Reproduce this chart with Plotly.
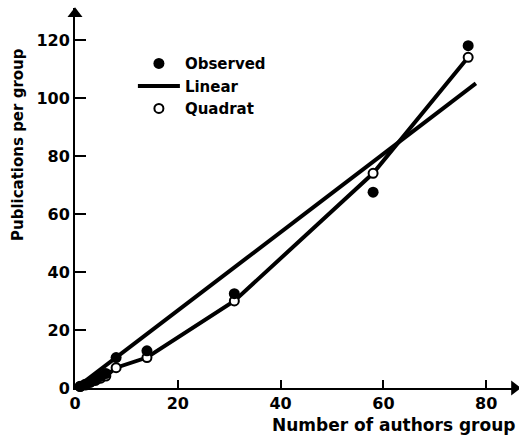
import plotly.graph_objects as go

# Observed data (authors per group vs publications per group)
obs_x = [1, 2, 3, 4, 5, 6, 8, 14, 31, 58, 76.5]
obs_y = [0.5, 1, 2, 3, 4, 5, 10.5, 12.8, 32.5, 67.5, 118]

# Quadratic fit values
quad_x = [0, 1, 2, 3, 4, 5, 6, 8, 14, 31, 58, 76.5]
quad_y = [0, 0.6, 1.3, 2, 2.6, 3.4, 4.1, 7, 10.5, 30, 74, 114]

# Linear fit end points
lin_x = [0.5, 78]
lin_y = [0.4, 105]

x_ticks = [0, 20, 40, 60, 80]
y_ticks = [0, 20, 40, 60, 80, 100, 120]

FONT = "DejaVu Sans"

fig = go.Figure()

fig.add_trace(go.Scatter(x=lin_x, y=lin_y, mode="lines", name="Linear",
                         line=dict(color="black", width=4), cliponaxis=False,
                         legendrank=2))
fig.add_trace(go.Scatter(x=quad_x, y=quad_y, mode="lines", showlegend=False,
                         line=dict(color="black", width=4), cliponaxis=False))
fig.add_trace(go.Scatter(x=quad_x[1:], y=quad_y[1:], mode="markers", name="Quadrat",
                         marker=dict(symbol="circle", size=9, color="white",
                                     line=dict(color="black", width=2)),
                         cliponaxis=False, legendrank=3))
fig.add_trace(go.Scatter(x=obs_x, y=obs_y, mode="markers", name="Observed",
                         marker=dict(symbol="circle", size=11, color="black"),
                         cliponaxis=False, legendrank=1))

# axis arrow heads
fig.add_trace(go.Scatter(x=[85.5], y=[0], mode="markers", showlegend=False,
                         marker=dict(symbol="triangle-right", size=13, color="black"),
                         cliponaxis=False, hoverinfo="skip"))
fig.add_trace(go.Scatter(x=[0], y=[129], mode="markers", showlegend=False,
                         marker=dict(symbol="triangle-up", size=13, color="black"),
                         cliponaxis=False, hoverinfo="skip"))

fig.update_layout(
    width=519, height=438,
    margin=dict(l=75, r=2, t=8, b=50),
    paper_bgcolor="white", plot_bgcolor="white",
    font=dict(family=FONT, size=15, color="black", weight="bold"),
    showlegend=True,
    legend=dict(x=0.131, y=0.897, xanchor="left", yanchor="top",
                bgcolor="rgba(0,0,0,0)", font=dict(size=15, weight="bold"),
                itemwidth=42, tracegroupgap=0),
    xaxis=dict(range=[0, 86], tickvals=x_ticks, ticktext=[str(v) for v in x_ticks],
               showgrid=False, zeroline=False, showline=True, linecolor="black",
               linewidth=2, ticks="inside", ticklen=8, tickwidth=2, tickcolor="black",
               tickfont=dict(size=16, weight="bold")),
    yaxis=dict(range=[0, 131], tickvals=y_ticks, ticktext=[str(v) for v in y_ticks],
               showgrid=False, zeroline=False, showline=True, linecolor="black",
               linewidth=2, ticks="inside", ticklen=11, tickwidth=2, tickcolor="black",
               tickfont=dict(size=16, weight="bold")),
    annotations=[
        dict(text="Number of authors group", xref="paper", yref="paper",
             x=1.0, y=-0.097, xanchor="right", yanchor="middle", showarrow=False,
             font=dict(size=17, weight="bold")),
        dict(text="Publications per group", xref="paper", yref="paper",
             x=-0.129, y=0.642, xanchor="center", yanchor="middle", textangle=-90,
             showarrow=False, font=dict(size=15, weight="bold")),
    ],
)

fig.write_html("out.html")
